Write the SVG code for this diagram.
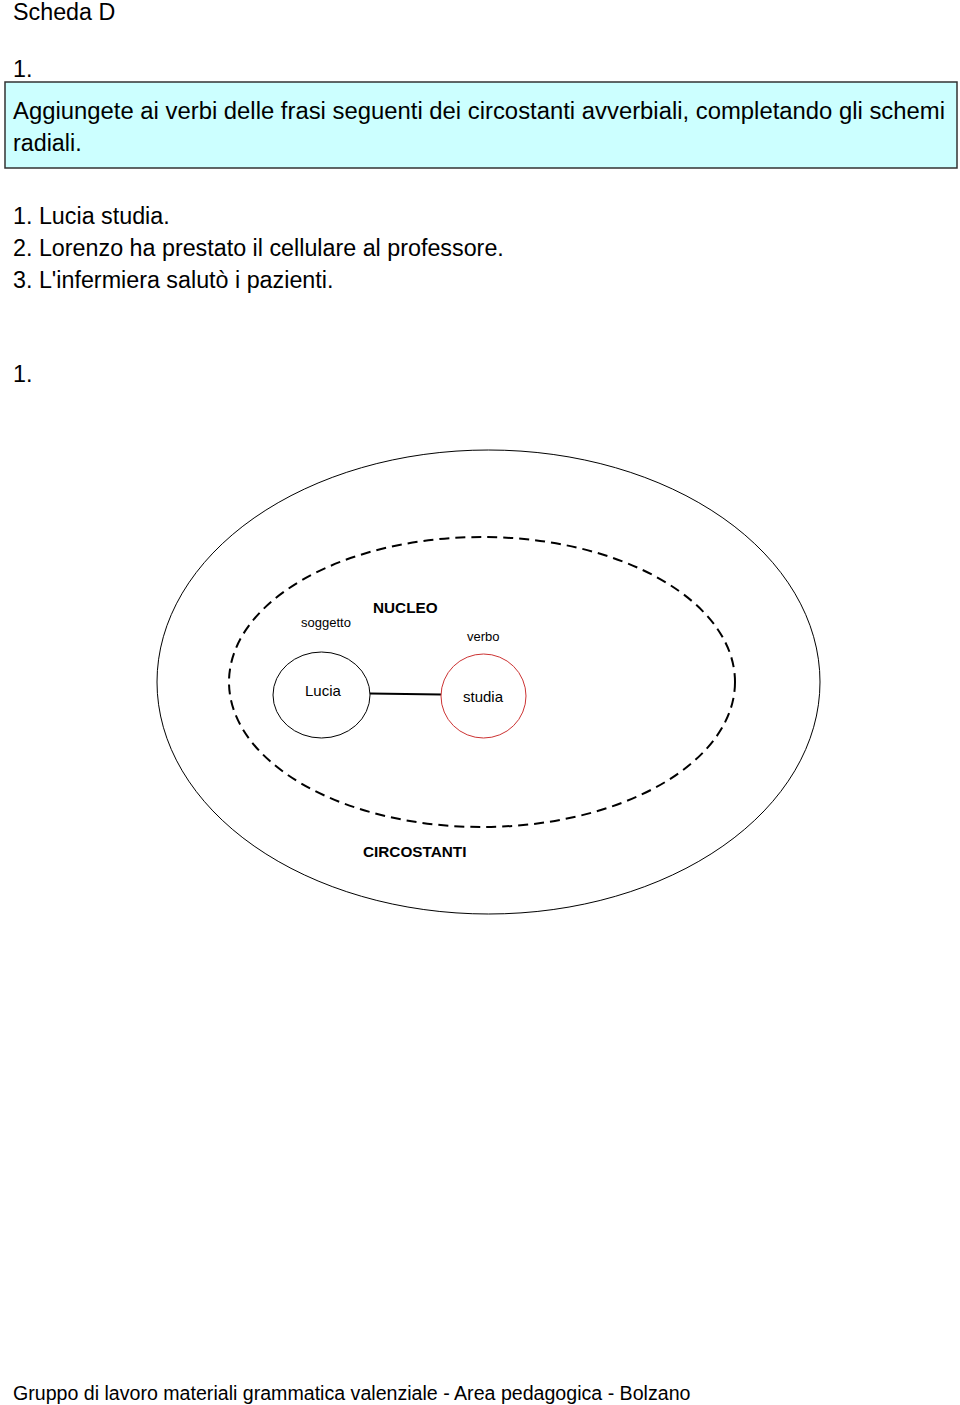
<svg xmlns="http://www.w3.org/2000/svg" width="960" height="1405" viewBox="0 0 960 1405">
<style>
text{font-family:"Liberation Sans",Arial,sans-serif;fill:#000}
.t20{font-size:23.3px}
.ft{font-size:19.6px}
.sm{font-size:13px}
.md{font-size:15px}
.b{font-size:15.3px;font-weight:bold}
.thin{fill:none;stroke:#000;stroke-width:1}
</style>
<rect width="960" height="1405" fill="#fff"/>
<g id="header">
<text class="t20" x="13" y="20">Scheda D</text>
<text class="t20" x="13" y="77">1.</text>
<rect x="5" y="82" width="952" height="86" fill="#ccffff" stroke="#333" stroke-width="1.5"/>
<text class="t20" x="13" y="119" textLength="932" lengthAdjust="spacingAndGlyphs">Aggiungete ai verbi delle frasi seguenti dei circostanti avverbiali, completando gli schemi</text>
<text class="t20" x="13" y="151">radiali.</text>
<text class="t20" x="13" y="224">1. Lucia studia.</text>
<text class="t20" x="13" y="256">2. Lorenzo ha prestato il cellulare al professore.</text>
<text class="t20" x="13" y="288">3. L'infermiera salutò i pazienti.</text>
<text class="t20" x="13" y="382">1.</text>
</g>
<g id="circostanti">
<ellipse class="thin" cx="488.5" cy="682" rx="331.5" ry="232"/>
<text class="b" x="363" y="857">CIRCOSTANTI</text>
</g>
<g id="nucleo">
<ellipse cx="482" cy="682" rx="253" ry="145" fill="none" stroke="#000" stroke-width="2" stroke-dasharray="10,6"/>
<text class="b" x="373" y="613">NUCLEO</text>
</g>
<g id="connectors">
<line x1="370" y1="693.5" x2="441" y2="694.5" stroke="#000" stroke-width="2"/>
</g>
<g id="soggetto">
<text class="sm" x="301" y="627">soggetto</text>
<ellipse class="thin" cx="321.5" cy="695" rx="48.5" ry="43"/>
<text class="md" x="305" y="696">Lucia</text>
</g>
<g id="verbo">
<text class="sm" x="467" y="641">verbo</text>
<ellipse cx="483.5" cy="696" rx="42.5" ry="42" fill="none" stroke="#cc3333" stroke-width="1"/>
<text class="md" x="463" y="702">studia</text>
</g>
<g id="footer">
<text class="ft" x="13" y="1400">Gruppo di lavoro materiali grammatica valenziale - Area pedagogica - Bolzano</text>
</g>
</svg>
